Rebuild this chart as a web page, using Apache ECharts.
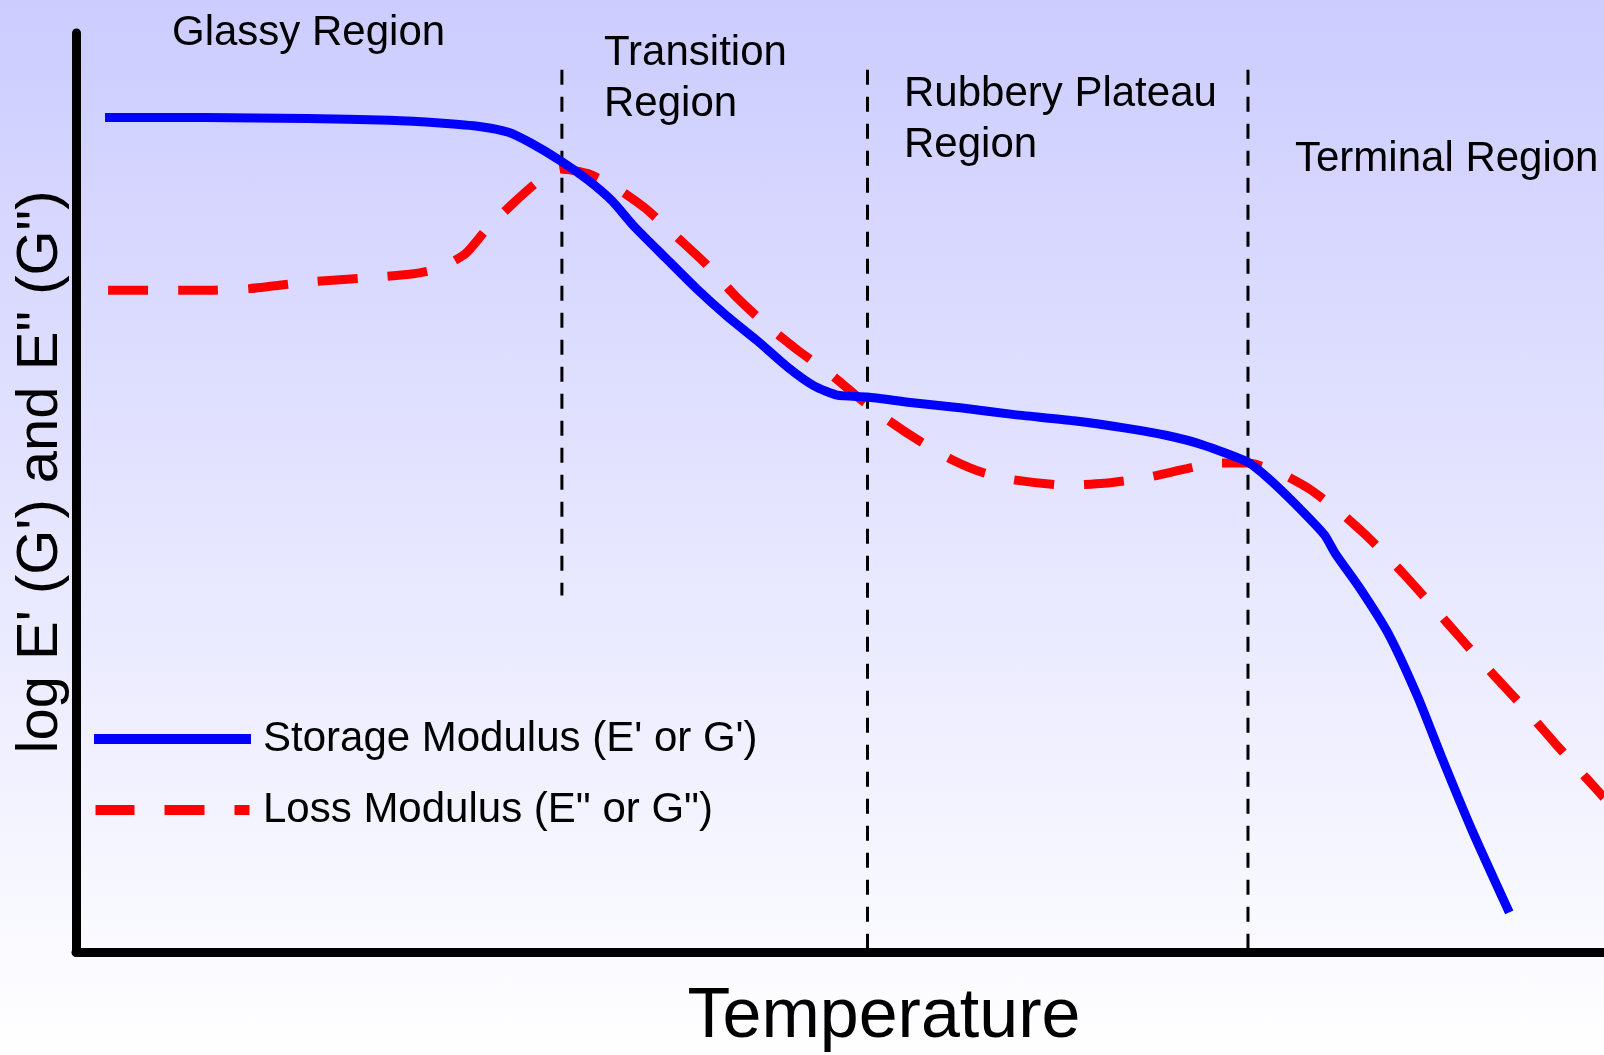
<!DOCTYPE html>
<html>
<head>
<meta charset="utf-8">
<title>Dynamic mechanical regions</title>
<script src="https://cdn.jsdelivr.net/npm/echarts@6/dist/echarts.min.js"></script>
<style>
  html, body { margin: 0; padding: 0; }
  #chart {
    width: 1604px;
    height: 1055px;
    background: linear-gradient(to bottom, #ccccff 0%, #ffffff 100%);
  }
</style>
</head>
<body>
<div id="chart"></div>
<script>
// storage modulus (solid blue)
const tempStorage = [1.9, 8.4, 15.1, 20.5, 23.8, 26.5, 28.3, 29.8, 31.7, 33.5, 35.1, 36.5, 38.6, 40.6, 42.6, 44.6, 46.6, 48.3, 49.8, 51.8, 54.6, 58.0, 61.3, 65.3, 68.7, 71.4, 73.7, 76.7, 78.0, 79.7, 81.7, 82.4, 84.1, 85.9, 87.8, 89.4, 91.4, 93.8]
const storageModulus = [90.8, 90.8, 90.7, 90.5, 90.2, 89.8, 89.2, 88.0, 86.1, 84.0, 81.7, 79.0, 75.5, 72.2, 69.2, 66.5, 63.6, 61.6, 60.6, 60.4, 59.8, 59.2, 58.5, 57.8, 57.0, 56.2, 55.2, 53.3, 51.6, 48.9, 45.4, 43.4, 39.4, 34.6, 27.8, 21.1, 13.1, 4.3]

// loss modulus (dashed red)
const tempLoss = [2.1, 8.4, 11.4, 15.1, 18.5, 22.1, 23.8, 25.5, 26.8, 28.5, 30.2, 31.7, 33.5, 35.5, 37.2, 39.2, 41.2, 43.2, 45.2, 47.3, 49.3, 51.3, 53.3, 55.3, 57.3, 59.3, 61.3, 64.7, 67.3, 70.0, 72.7, 74.7, 76.7, 78.7, 80.7, 82.7, 84.7, 86.8, 88.8, 90.8, 92.8, 94.8, 96.8, 98.8, 100]
const lossModulus = [72.0, 72.0, 72.2, 72.9, 73.3, 73.8, 74.4, 76.0, 78.5, 81.3, 83.8, 85.2, 84.7, 83.0, 81.0, 78.0, 74.9, 71.3, 68.2, 65.4, 63.0, 60.2, 57.7, 55.5, 53.6, 52.2, 51.4, 50.8, 51.0, 51.6, 52.6, 53.2, 53.2, 52.2, 50.4, 47.9, 44.9, 41.3, 37.6, 33.8, 30.1, 26.5, 22.7, 19.0, 16.8]

// region boundaries (dashed black verticals)
const boundaryTemps = [31.8, 51.8, 76.7]
const boundaryTop = 96
const boundaryBottoms = [38.8, 0, 0]

const regionLabels = ['Glassy Region', 'Transition\nRegion', 'Rubbery Plateau\nRegion', 'Terminal Region']
const seriesNames = ["Storage Modulus (E' or G')", 'Loss Modulus (E" or G")']
const yTitle = 'log E\' (G\') and E" (G")'
const xTitle = 'Temperature'

const FONT = '"Liberation Sans", Arial, sans-serif'

const chart = echarts.init(document.getElementById('chart'))

const boundarySeries = boundaryTemps.map((t, i) => ({
  type: 'line',
  z: 1,
  silent: true,
  symbol: 'none',
  data: [[t, boundaryTop], [t, boundaryBottoms[i]]],
  lineStyle: { color: '#000', width: 3, type: [15, 12] }
}))

// label positions in px (left, top of first line)
const labelPos = [[172, 8], [604, 28], [904, 69], [1295, 134]]

const option = {
  backgroundColor: 'transparent',
  animation: false,
  grid: { left: 76, right: 0, top: 33, bottom: 103 },
  xAxis: {
    type: 'value',
    min: 0,
    max: 100,
    axisLine: { lineStyle: { color: '#000', width: 9 } },
    axisTick: { show: false },
    axisLabel: { show: false },
    splitLine: { show: false }
  },
  yAxis: {
    type: 'value',
    min: 0,
    max: 100,
    axisLine: { show: true, lineStyle: { color: '#000', width: 9 } },
    axisTick: { show: false },
    axisLabel: { show: false },
    splitLine: { show: false }
  },
  legend: {
    orient: 'vertical',
    left: 94,
    top: 714,
    padding: 0,
    itemWidth: 157,
    itemHeight: 10,
    itemGap: 21,
    selectedMode: false,
    textStyle: { fontFamily: FONT, fontSize: 42, color: '#000', lineHeight: 50, padding: [0, 0, 0, 7] },
    data: [
      { name: seriesNames[0], icon: 'rect', itemStyle: { color: '#0000ff' } },
      {
        name: seriesNames[1],
        icon: 'path://M0,0h39v10h-39z M69,0h40v10h-40z M139,0h15v10h-15z',
        itemStyle: { color: '#ff0000' }
      }
    ]
  },
  graphic: [
    ...regionLabels.map((txt, i) => ({
      type: 'text',
      x: labelPos[i][0],
      y: labelPos[i][1],
      style: { text: txt, font: '42px ' + FONT, fill: '#000', lineHeight: 51, textVerticalAlign: 'top' }
    })),
    {
      type: 'text',
      x: 41,
      y: 472,
      rotation: Math.PI / 2,
      style: { text: yTitle, font: '58px ' + FONT, fill: '#000', textAlign: 'center', textVerticalAlign: 'middle' }
    },
    {
      type: 'text',
      x: 884,
      y: 1018,
      style: { text: xTitle, font: '70px ' + FONT, fill: '#000', textAlign: 'center', textVerticalAlign: 'middle' }
    }
  ],
  series: [
    ...boundarySeries,
    {
      name: seriesNames[1],
      type: 'line',
      z: 2,
      symbol: 'none',
      smooth: 0.2,
      data: tempLoss.map((t, i) => [t, lossModulus[i]]),
      itemStyle: { color: '#ff0000' },
      lineStyle: { color: '#ff0000', width: 9, type: [40, 30], cap: 'butt' }
    },
    {
      name: seriesNames[0],
      type: 'line',
      z: 3,
      symbol: 'none',
      smooth: 0.2,
      data: tempStorage.map((t, i) => [t, storageModulus[i]]),
      itemStyle: { color: '#0000ff' },
      lineStyle: { color: '#0000ff', width: 9, join: 'round' }
    }
  ]
}

chart.setOption(option)
</script>
</body>
</html>
